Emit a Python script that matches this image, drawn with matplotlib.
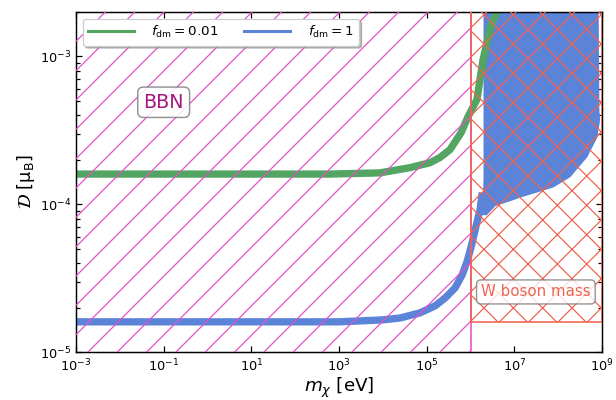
import numpy as np
import matplotlib.pyplot as plt
from matplotlib.lines import Line2D
from matplotlib.ticker import LogLocator, NullLocator, NullFormatter

# data (m in eV, D in Bohr magnetons)
m_green = [1e-3, 6e2, 8.6e3, 4.2e4, 1.19e5, 2.0e5, 3.4e5, 6.1e5, 8.8e5, 1.4e6, 1.93e6, 2.9e6, 4.2e6]
D_green = [1.6e-4, 1.6e-4, 1.63e-4, 1.77e-4, 1.91e-4, 2.07e-4, 2.34e-4, 3.05e-4, 3.92e-4, 5.1e-4, 9.5e-4, 1.6e-3, 2.1e-3]

m_blue = [1e-3, 1e0, 1e2, 1e3, 1e4, 2.5e4, 7e4, 1.55e5, 2.63e5, 4.47e5, 6.46e5, 8.3e5, 1.02e6, 1.2e6, 1.41e6, 1.66e6, 1.85e6]
D_blue = [1.6e-5, 1.6e-5, 1.6e-5, 1.6e-5, 1.65e-5, 1.70e-5, 1.84e-5, 2.05e-5, 2.32e-5, 2.72e-5, 3.33e-5, 4.07e-5, 5.07e-5, 6.2e-5, 7.6e-5, 9.2e-5, 1.2e-4]

# blue excluded region (f_dm = 1) at high mass
D_region = [8.5e-5, 9.8e-5, 1.07e-4, 1.12e-4, 1.20e-4, 1.31e-4, 1.54e-4, 2.10e-4, 2.87e-4, 3.74e-4, 4.37e-4, 3e-3]
m_region_lo = [1.55e6, 1.7e6, 1.78e6, 1.82e6, 1.86e6, 1.9e6, 1.93e6, 1.93e6, 1.93e6, 1.93e6, 1.93e6, 1.93e6]
m_region_hi = [2.3e6, 3.6e6, 8.9e6, 1.35e7, 2.95e7, 7.6e7, 1.86e8, 4.5e8, 7.7e8, 8.8e8, 8.5e8, 8.1e8]

m_bbn = 1e6          # BBN bound
D_wboson = 1.6e-5    # W boson mass bound
m_max = 1e9

xticks = [1e-3, 1e-1, 1e1, 1e3, 1e5, 1e7, 1e9]

green = '#52a661'
blue = '#5b84d9'
magenta = '#e550c6'
tomato = '#f06350'

dpi = 88
plt.rcParams['hatch.linewidth'] = 1.0
fig = plt.figure(figsize=(616 / dpi, 400 / dpi), dpi=dpi)
ax = fig.add_axes([76 / 616, 48 / 400, 526 / 616, 340 / 400])

ax.fill_betweenx(D_region, m_region_lo, m_region_hi, color=blue, lw=0, zorder=2)
ax.plot(m_blue, D_blue, color=blue, lw=6.0, solid_capstyle='butt', zorder=2)
ax.plot(m_green, D_green, color=green, lw=6.0, solid_capstyle='butt', zorder=2)

# hatched regions
ax.axvspan(1e-3, m_bbn, facecolor='none', edgecolor=magenta, hatch='/', lw=0, zorder=3)
ax.axvline(m_bbn, color=magenta, lw=1.3, zorder=3)
ax.fill_between([m_bbn, m_max], D_wboson, 1.0, facecolor='none', edgecolor=tomato,
                hatch='x', lw=1.3, zorder=3)

ax.text(0.1, 4.9e-4, 'BBN', color='#a3177f', fontsize=15.5, ha='center', va='center', zorder=5,
        bbox=dict(boxstyle='round,pad=0.3', facecolor='white', edgecolor='gray', alpha=0.85, lw=1.2))
ax.text(3.1e7, 2.55e-5, 'W boson mass', color=tomato, fontsize=12.3, ha='center', va='center', zorder=5,
        bbox=dict(boxstyle='round,pad=0.3', facecolor='white', edgecolor='gray', alpha=0.8, lw=1.2))

ax.set_xscale('log')
ax.set_yscale('log')
ax.set_xlim(1e-3, m_max)
ax.set_ylim(1e-5, 2e-3)
ax.set_xticks(xticks)
ax.xaxis.set_minor_locator(NullLocator())
ax.yaxis.set_minor_locator(LogLocator(base=10, subs=np.arange(2, 10)))
ax.yaxis.set_minor_formatter(NullFormatter())
ax.tick_params(which='both', direction='in', top=True, right=True, labelsize=10.5, width=1.0)
ax.tick_params(axis='x', pad=5)
ax.tick_params(axis='y', pad=4)
ax.tick_params(which='major', length=5.0)
ax.tick_params(which='minor', length=3.5)
for s in ax.spines.values():
    s.set_linewidth(1.2)

ax.set_xlabel(r'$m_\chi$ [eV]', fontsize=15, labelpad=1)
ax.set_ylabel(r'$\mathcal{D}$ [$\mathrm{\mu_B}$]', fontsize=14.5, labelpad=2)

handles = [Line2D([], [], color=green, lw=2.5), Line2D([], [], color=blue, lw=2.5)]
labels = [r'$f_{\rm dm} = 0.01$', r'$f_{\rm dm} = 1$']
leg = ax.legend(handles, labels, loc='upper left', ncol=2, fontsize=11, shadow={'color': '0.55', 'alpha': 0.6},
                handlelength=3.4, handletextpad=1.3, columnspacing=1.9, borderaxespad=0.5)
leg.get_frame().set_linewidth(1.0)
leg.set_zorder(6)

fig.savefig('out.png', dpi=dpi)
